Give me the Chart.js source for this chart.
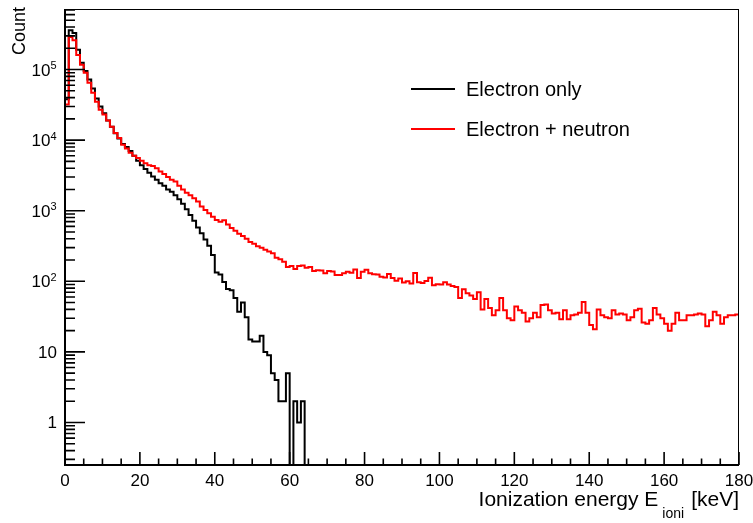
<!DOCTYPE html>
<html>
<head>
<meta charset="utf-8">
<script src="https://cdn.jsdelivr.net/npm/chart.js@4.4.1/dist/chart.umd.min.js"></script>
<style>
  html, body { margin: 0; padding: 0; background: #ffffff; }
  #c { display: block; }
</style>
</head>
<body>
<canvas id="c" width="753" height="523"></canvas>
<script>
// ---------------- data ----------------
const xRange = [0, 180];            // keV, 1 keV bins
const binWidth = 1;
const yRange = [0.25, 720000];

// Electron only (counts per 1 keV bin, bins 0..179)
const electronOnly = [
  38000, 360000, 330000, 190000, 125000, 95000, 72000, 54000, 39000, 30000,
  24000, 19000, 15500, 12500, 10500, 8800, 8000, 7000, 6000, 5100,
  4400, 3900, 3450, 3050, 2750, 2450, 2250, 2000, 1850, 1650,
  1450, 1250, 1050, 870, 720, 580, 480, 390, 320, 235,
  133, 125, 98, 78, 75, 58, 37, 50, 31, 15,
  14, 14, 17, 10, 9, 5, 4, 2, 2, 5,
  0, 2, 1, 2, 0, 0, 0, 0, 0, 0,
  0, 0, 0, 0, 0, 0, 0, 0, 0, 0,
  0, 0, 0, 0, 0, 0, 0, 0, 0, 0,
  0, 0, 0, 0, 0, 0, 0, 0, 0, 0,
  0, 0, 0, 0, 0, 0, 0, 0, 0, 0,
  0, 0, 0, 0, 0, 0, 0, 0, 0, 0,
  0, 0, 0, 0, 0, 0, 0, 0, 0, 0,
  0, 0, 0, 0, 0, 0, 0, 0, 0, 0,
  0, 0, 0, 0, 0, 0, 0, 0, 0, 0,
  0, 0, 0, 0, 0, 0, 0, 0, 0, 0,
  0, 0, 0, 0, 0, 0, 0, 0, 0, 0,
  0, 0, 0, 0, 0, 0, 0, 0, 0, 0
];

// Electron + neutron
const electronNeutron = [
  32000, 290000, 260000, 160000, 117000, 90000, 65000, 47000, 35000, 27000,
  23000, 19000, 15500, 12600, 10700, 8600, 7600, 6600, 6000, 5600,
  5100, 4700, 4400, 4300, 4000, 3600, 3300, 3000, 2750, 2600,
  2250, 2000, 1800, 1650, 1500, 1350, 1150, 1020, 920, 820,
  740, 700, 735, 640, 570, 520, 470, 440, 400, 360,
  340, 315, 300, 280, 265, 250, 215, 205, 190, 160,
  165, 150, 165, 168, 155, 160, 140, 144, 142, 130,
  140, 138, 123, 123, 130, 137, 132, 147, 111, 137,
  146, 130, 126, 125, 116, 113, 127, 111, 102, 110,
  96, 100, 93, 131, 97, 95, 101, 112, 88, 91,
  90, 97, 90, 86, 83, 58, 77, 68, 63, 56,
  70, 40, 56, 42, 33, 39, 58, 39, 30, 28,
  44, 39, 36, 27, 30, 36, 31, 46, 47, 39,
  35, 36, 29, 39, 29, 33, 34, 36, 51, 36,
  24, 21, 40, 33, 31, 30, 39, 34, 35, 34,
  28, 31, 39, 41, 26, 25, 28, 42, 34, 30,
  25, 20, 25, 36, 28, 28, 33, 33, 34, 35,
  34, 23, 28, 37, 33, 25, 31, 33, 33, 34
];

const seriesNames = ['Electron only', 'Electron + neutron'];
const seriesColors = ['#000000', '#ff0000'];
const xTickValues = [0, 20, 40, 60, 80, 100, 120, 140, 160, 180];
const xTickLabels = ['0', '20', '40', '60', '80', '100', '120', '140', '160', '180'];
const yTickValues = [1, 10, 100, 1000, 10000, 100000];
const yTickBases = ['1', '10', '10', '10', '10', '10'];
const yTickExponents = ['', '', '2', '3', '4', '5'];
const xTitleParts = ['Ionization energy E', 'ioni', '[keV]'];
const yTitle = 'Count';

// ---------------- helpers ----------------
const FONT = '"Liberation Sans", Arial, Helvetica, sans-serif';
const binEdges = electronOnly.map((_, i) => xRange[0] + i * binWidth);

function histPoints(values) {
  const floor = 1e-3; // empty bins are drawn to below the frame (clipped), as ROOT does
  const pts = values.map((v, i) => ({ x: binEdges[i], y: v > 0 ? v : floor }));
  const last = values[values.length - 1];
  pts.push({ x: binEdges[values.length - 1] + binWidth, y: last > 0 ? last : floor });
  return pts;
}

const rootStyle = {
  id: 'rootStyle',
  afterDatasetsDraw(chart) {
    const { ctx, chartArea: a, scales: { x, y } } = chart;
    ctx.save();
    ctx.strokeStyle = '#000';
    ctx.fillStyle = '#000';

    // frame
    ctx.lineWidth = 1;
    ctx.strokeRect(a.left, a.top + 0.5, a.right - a.left - 0.5, a.bottom - a.top);

    // axis lines
    ctx.lineWidth = 2;
    ctx.beginPath();
    ctx.moveTo(a.left, a.top);
    ctx.lineTo(a.left, a.bottom);
    ctx.lineTo(a.right, a.bottom);
    ctx.stroke();

    // y ticks (inside, ROOT style)
    ctx.lineWidth = 1.6;
    ctx.beginPath();
    for (let e = -1; e <= 6; e++) {
      for (let m = 1; m <= 9; m++) {
        const v = m * Math.pow(10, e);
        if (v < y.min || v > y.max) continue;
        const py = y.getPixelForValue(v);
        const len = m === 1 ? 20 : 10;
        ctx.moveTo(a.left, py);
        ctx.lineTo(a.left + len, py);
      }
    }
    ctx.stroke();

    // x ticks
    ctx.beginPath();
    for (let v = xRange[0]; v <= xRange[1]; v += 5) {
      const px = x.getPixelForValue(v);
      const len = v % 20 === 0 ? 13 : 6.5;
      ctx.moveTo(px, a.bottom);
      ctx.lineTo(px, a.bottom - len);
    }
    ctx.stroke();

    // x tick labels
    ctx.font = `17px ${FONT}`;
    ctx.textAlign = 'center';
    ctx.textBaseline = 'alphabetic';
    xTickValues.forEach((v, i) => {
      ctx.fillText(xTickLabels[i], x.getPixelForValue(v), a.bottom + 20.5);
    });

    // y tick labels
    const rightEdge = 56.5;
    yTickValues.forEach((v, i) => {
      const py = y.getPixelForValue(v);
      ctx.textAlign = 'right';
      if (!yTickExponents[i]) {
        ctx.font = `17px ${FONT}`;
        ctx.fillText(yTickBases[i], rightEdge + 0.5, py + 6);
      } else {
        ctx.font = `11px ${FONT}`;
        const ew = ctx.measureText(yTickExponents[i]).width;
        ctx.fillText(yTickExponents[i], rightEdge, py - 0.5);
        ctx.font = `17px ${FONT}`;
        ctx.fillText(yTickBases[i], rightEdge - ew, py + 6);
      }
    });

    // x axis title: right aligned to the frame end
    ctx.textAlign = 'left';
    ctx.font = `21px ${FONT}`;
    const wUnit = ctx.measureText(xTitleParts[2]).width;
    const wMain = ctx.measureText(xTitleParts[0]).width;
    ctx.font = `14px ${FONT}`;
    const wSub = ctx.measureText(xTitleParts[1]).width;
    const unitX = a.right - wUnit;
    const subX = unitX - 7 - wSub;
    const mainX = subX - 4 - wMain;
    ctx.font = `21px ${FONT}`;
    ctx.fillText(xTitleParts[0], mainX, 506);
    ctx.fillText(xTitleParts[2], unitX, 506);
    ctx.font = `14px ${FONT}`;
    ctx.fillText(xTitleParts[1], subX, 518);

    // y axis title (rotated, top aligned)
    ctx.save();
    ctx.translate(25, 7);
    ctx.rotate(-Math.PI / 2);
    ctx.font = `18px ${FONT}`;
    ctx.textAlign = 'right';
    ctx.fillText(yTitle, 0, 0);
    ctx.restore();

    // legend (no border, ROOT TLegend style)
    const legendY = [89, 129];
    seriesNames.forEach((name, i) => {
      ctx.strokeStyle = seriesColors[i];
      ctx.lineWidth = 2;
      ctx.beginPath();
      ctx.moveTo(411, legendY[i]);
      ctx.lineTo(455, legendY[i]);
      ctx.stroke();
      ctx.fillStyle = '#000';
      ctx.font = `20px ${FONT}`;
      ctx.textAlign = 'left';
      ctx.fillText(name, 466, legendY[i] + 7);
    });

    ctx.restore();
  }
};

new Chart(document.getElementById('c'), {
  type: 'line',
  data: {
    datasets: [
      {
        label: seriesNames[0],
        data: histPoints(electronOnly),
        borderColor: seriesColors[0],
        borderWidth: 2,
        stepped: 'before',
        pointRadius: 0,
        fill: false,
        order: 1
      },
      {
        label: seriesNames[1],
        data: histPoints(electronNeutron),
        borderColor: seriesColors[1],
        borderWidth: 2,
        stepped: 'before',
        pointRadius: 0,
        fill: false,
        order: 0
      }
    ]
  },
  options: {
    responsive: false,
    devicePixelRatio: 1,
    animation: false,
    parsing: true,
    layout: { padding: { left: 65, right: 14, top: 9, bottom: 58 } },
    plugins: { legend: { display: false }, tooltip: { enabled: false } },
    elements: { line: { borderJoinStyle: 'miter', tension: 0 } },
    scales: {
      x: { type: 'linear', min: xRange[0], max: xRange[1], display: false },
      y: { type: 'logarithmic', min: yRange[0], max: yRange[1], display: false }
    }
  },
  plugins: [rootStyle]
});
</script>
</body>
</html>
